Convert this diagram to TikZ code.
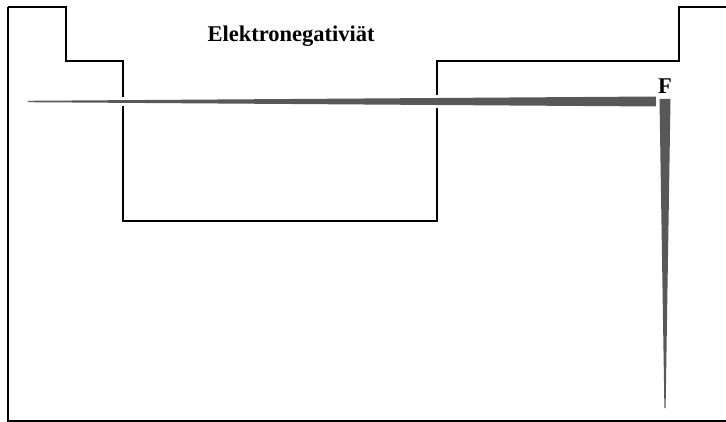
\documentclass[tikz,border=0pt]{standalone}
\usepackage{fontspec}
\setmainfont{Liberation Serif}
\definecolor{wedgegray}{RGB}{88,88,88}
\begin{document}
\begin{tikzpicture}[x=1pt,y=-1pt,
  outline/.style={draw=black,line width=2pt,line join=miter},
  halo/.style={draw=white,fill=white,line width=6pt,line join=miter},
  wedge/.style={fill=wedgegray},
  lbl/.style={font=\bfseries\fontsize{22.5}{26}\selectfont,inner sep=0pt}]
\useasboundingbox (0,0) rectangle (726,422);
% table outline
\draw[outline] (8,7) -- (8,421) -- (727,421);
\draw[outline] (8,7) -- (66,7) -- (66,61) -- (123,61) -- (123,221) -- (437,221) -- (437,61) -- (679,61) -- (679,7) -- (727,7);
% horizontal wedge
\path[halo] (28,100.8) -- (28,102.2) -- (656,106.5) -- (656,96.5) -- cycle;
\path[wedge] (28,100.8) -- (28,102.2) -- (656,106.5) -- (656,96.5) -- cycle;
% vertical wedge
\path[halo] (659.5,99) -- (670.5,99) -- (665.6,408) -- (664.4,408) -- cycle;
\path[wedge] (659.5,99) -- (670.5,99) -- (665.6,408) -- (664.4,408) -- cycle;
% labels
\node[lbl,anchor=base west] (title) at (207.3,41.7) {Elektronegativiät};
\node[lbl,anchor=base] (fluor) at (665,93.3) {F};
\end{tikzpicture}
\end{document}
